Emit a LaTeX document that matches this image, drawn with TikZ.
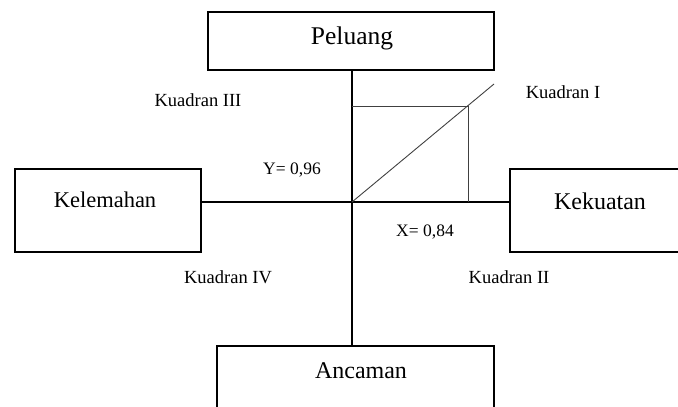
\documentclass[tikz,border=0pt]{standalone}
\usepackage{fontspec}
\setmainfont{Liberation Serif}
\usepackage{tikz}

\begin{document}
\begin{tikzpicture}[x=1pt, y=-1pt]
        \tikzset{box/.style = {shape=rectangle,draw,line width=1.6pt,anchor=north west,inner sep=0pt}}
        \tikzset{big/.style = {font=\fontsize{24}{27}\selectfont,inner sep=0pt}}
        \tikzset{small/.style = {font=\fontsize{18.5}{21}\selectfont,inner sep=0pt}}
        \tikzset{value/.style = {font=\fontsize{17.5}{20}\selectfont,inner sep=0pt}}
        \tikzset{axis/.style = {line width=1.6pt}}
        \tikzset{thin/.style = {line width=0.9pt,draw=black!75}}
        \useasboundingbox (0,0) rectangle (678,407);
        \clip (0,0) rectangle (678,407);
        % boxes
        \node[box,minimum width=286pt,minimum height=58pt] (peluang) at (207,11) {};
        \node[box,minimum width=186pt,minimum height=83pt] (kelemahan) at (14,168) {};
        \node[box,minimum width=182pt,minimum height=83pt] (kekuatan) at (509,168) {};
        \node[box,minimum width=277pt,minimum height=83pt] (ancaman) at (216,345) {};
        \node[big,font=\fontsize{25.5}{28}\selectfont] (tpeluang) at (352,38) {Peluang};
        \node[big,font=\fontsize{22.5}{25}\selectfont] (tkelemahan) at (105,200) {Kelemahan};
        \node[big] (tkekuatan) at (600,201.5) {Kekuatan};
        \node[big] (tancaman) at (361,371) {Ancaman};

        % origin and point
        \coordinate (O) at (352,202);
        \coordinate (P) at (468,106);
        \coordinate (D) at (494,84);

        % axes
        \draw[axis] (peluang.south -| O) -- (ancaman.north -| O);
        \draw[axis] (kelemahan.east |- O) -- (kekuatan.west |- O);
        % square and diagonal
        \draw[thin] (O |- P) -- (P) -- (P |- O);
        \draw[thin] (O) -- (D);

        % labels
        \node[small] (k1) at (563,92) {Kuadran I};
        \node[small] (k2) at (509,277) {Kuadran II};
        \node[small] (k3) at (198,100) {Kuadran III};
        \node[small] (k4) at (228,277) {Kuadran IV};
        \node[value] (ylab) at (292,170) {Y= 0,96};
        \node[value] (xlab) at (425,232) {X= 0,84};
\end{tikzpicture}
\end{document}
